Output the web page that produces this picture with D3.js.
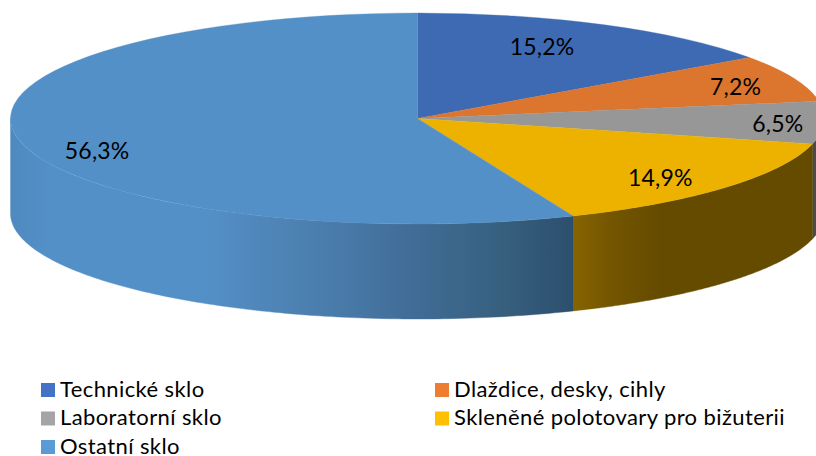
<!DOCTYPE html>
<html>
<head>
<meta charset="utf-8">
<script src="https://cdn.jsdelivr.net/npm/d3@7"></script>
<style>
  html, body { margin: 0; padding: 0; background: #fff; }
  svg { display: block; }
  text { font-family: Lato, Carlito, sans-serif; fill: #000; }
</style>
</head>
<body>
<svg width="816" height="456"></svg>
<script>
// values
var categories = ["Technické sklo", "Dlaždice, desky, cihly", "Laboratorní sklo", "Skleněné polotovary pro bižuterii", "Ostatní sklo"];
var values = [15.2, 7.2, 6.5, 14.9, 56.3];
var labels = ["15,2%", "7,2%", "6,5%", "14,9%", "56,3%"];

// colours
var topColors = ["#3e6ab4", "#dc752d", "#979797", "#edb200", "#5490c8"];
var legendColors = ["#4472c4", "#ed7d31", "#a5a5a5", "#ffc000", "#5b9bd5"];

var cx = 417.5, cy = 118.5, rx = 407, ry = 105.5, depth = 95;

var svg = d3.select("svg");
var defs = svg.append("defs");

var pie = d3.pie().value(function (d) { return d; }).sort(null);
var slices = pie(values);

// x and y of the rim at a pie angle (0 = up, clockwise)
function rimX(t) { return cx + rx * Math.sin(t); }
function rimY(t) { return cy - ry * Math.cos(t); }

// side wall gradients, they run along x in page space
function addGradient(id, stops) {
  var g = defs.append("linearGradient")
    .attr("id", id)
    .attr("gradientUnits", "userSpaceOnUse")
    .attr("x1", cx - rx).attr("x2", cx + rx).attr("y1", 0).attr("y2", 0);
  stops.forEach(function (s) {
    g.append("stop")
      .attr("offset", (s[0] - (cx - rx)) / (2 * rx))
      .attr("stop-color", s[1]);
  });
  return "url(#" + id + ")";
}

var wallFills = [
  null,
  null,
  "#4b4b4b",
  addGradient("wallYellow", [[573, "#866400"], [610, "#745600"], [660, "#654b00"], [813, "#654b00"]]),
  addGradient("wallBlue", [[10, "#4e8abf"], [50, "#5490c8"], [200, "#5490c8"], [330, "#4a7cab"], [416, "#406c96"], [500, "#37607f"], [573, "#2d4f6e"]])
];

var wall = d3.area()
  .x(function (t) { return rimX(t); })
  .y0(function (t) { return rimY(t); })
  .y1(function (t) { return rimY(t) + depth; });

// only the front half of the wall shows
slices.forEach(function (d, i) {
  var a0 = Math.max(d.startAngle, Math.PI / 2);
  var a1 = Math.min(d.endAngle, Math.PI * 1.5);
  if (a1 <= a0 || !wallFills[i]) return;
  svg.append("path")
    .attr("d", wall(d3.range(0, 121).map(function (k) { return a0 + (a1 - a0) * k / 120; })))
    .attr("fill", wallFills[i])
    .attr("stroke", wallFills[i])
    .attr("stroke-width", 0.4);
});

// top face: a flat arc squashed into an ellipse
// thin stroke in the slice colour hides the seams between slices
var arc = d3.arc().innerRadius(0).outerRadius(rx);
svg.append("g")
  .attr("transform", "translate(" + cx + "," + cy + ") scale(1," + (ry / rx) + ")")
  .selectAll("path")
  .data(slices)
  .enter()
  .append("path")
  .attr("d", arc)
  .attr("fill", function (d, i) { return topColors[i]; })
  .attr("stroke", function (d, i) { return topColors[i]; })
  .attr("stroke-width", 0.5);

// data labels sit near the slice centroid, nudged by hand
var labelShift = [[-25, 3], [17, 1], [35, 2], [-4, 4], [-1, 16]];
svg.append("g")
  .selectAll("text")
  .data(slices)
  .enter()
  .append("text")
  .attr("x", function (d, i) { return cx + 0.8 * rx * Math.sin((d.startAngle + d.endAngle) / 2) + labelShift[i][0]; })
  .attr("y", function (d, i) { return cy - 0.8 * ry * Math.cos((d.startAngle + d.endAngle) / 2) + labelShift[i][1]; })
  .attr("dy", "0.35em")
  .attr("text-anchor", "middle")
  .attr("font-size", 23)
  .attr("letter-spacing", 0.2)
  .text(function (d, i) { return labels[i]; });

// legend, two columns
var legendX = d3.scalePoint().domain([0, 1]).range([41, 435]);
var legendY = d3.scalePoint().domain([0, 1, 2]).range([390, 447]);

var legend = svg.append("g")
  .selectAll("g")
  .data(categories)
  .enter()
  .append("g")
  .attr("transform", function (d, i) {
    return "translate(" + legendX(i % 2) + "," + legendY(Math.floor(i / 2)) + ")";
  });

legend.append("rect")
  .attr("x", 0).attr("y", -7)
  .attr("width", 14).attr("height", 14)
  .attr("fill", function (d, i) { return legendColors[i]; });

legend.append("text")
  .attr("x", 19)
  .attr("y", 6.5)
  .attr("font-size", 22)
  .attr("letter-spacing", 0.4)
  .text(function (d) { return d; });
</script>
</body>
</html>
